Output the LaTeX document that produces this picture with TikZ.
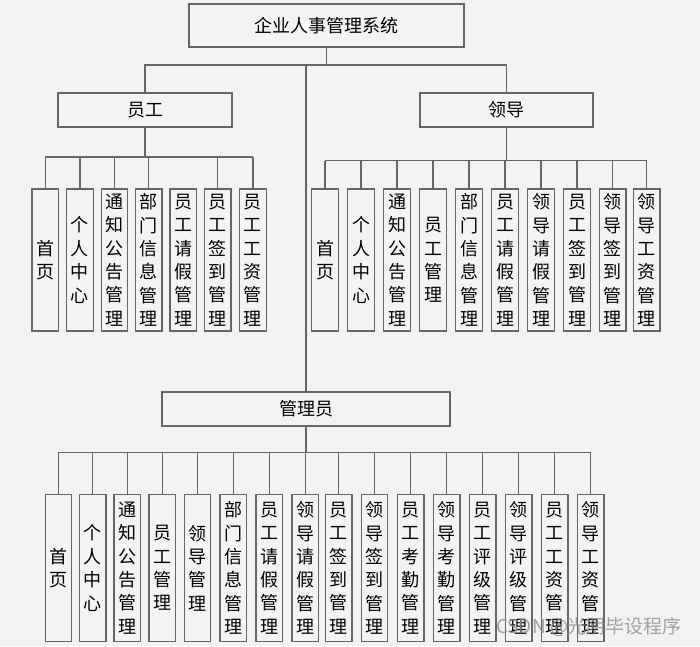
\documentclass[tikz,border=0pt]{standalone}
\usepackage{fontspec}
\setmainfont{Noto Sans CJK SC}
\definecolor{bgc}{HTML}{F2F2F2}
\definecolor{boxc}{HTML}{F3F3F3}
\definecolor{linec}{HTML}{666666}
\begin{document}
\begin{tikzpicture}[x=1pt,y=-1pt,
  box/.style={draw=linec, line width=1.2pt, fill=boxc, inner sep=0pt, text=black,
    font=\fontsize{18}{23.4}\selectfont, align=center},
  leaf/.style={box, minimum width=26.5pt},
  conn/.style={draw=linec, line width=1.2pt}]
\useasboundingbox[fill=bgc] (0,0) rectangle (700,646);
% top level
\node[box, minimum width=275pt, minimum height=43pt] (top) at (326.5,25.5) {企业人事管理系统};
\node[box, minimum width=174pt, minimum height=34pt] (yg) at (145,110) {员工};
\node[box, minimum width=173pt, minimum height=34pt] (ld) at (506.5,110) {领导};
\node[box, minimum width=288pt, minimum height=34pt] (gly) at (306,409) {管理员};
\coordinate (bus1) at (0,65);
\draw[conn] (top.south) -- (top.south |- bus1);
\draw[conn] (yg.north) -- (yg.north |- bus1) -- (ld.north |- bus1) -- (ld.north);
\draw[conn] (gly.north) -- (gly.north |- bus1);
% staff leaves
\coordinate (bus2) at (0,157);
\foreach \x/\t [count=\i] in {45.3/{首\\页}, 79.9/{个\\人\\中\\心}, 114.4/{通\\知\\公\\告\\管\\理},
  148.8/{部\\门\\信\\息\\管\\理}, 183.2/{员\\工\\请\\假\\管\\理}, 217.8/{员\\工\\签\\到\\管\\理},
  252.9/{员\\工\\工\\资\\管\\理}}
  \node[leaf, minimum height=142pt] (e\i) at (\x,260) {\t};
\draw[conn] (yg.south) -- (yg.south |- bus2);
\draw[conn] (e1.north |- bus2) -- (e7.north |- bus2);
\foreach \i in {1,2,3,4,6,7} \draw[conn] (e\i.north) -- (e\i.north |- bus2);
% leader leaves
\coordinate (bus3) at (0,160.7);
\foreach \x/\t [count=\i] in {325/{首\\页}, 361/{个\\人\\中\\心}, 397/{通\\知\\公\\告\\管\\理},
  433/{员\\工\\管\\理}, 469/{部\\门\\信\\息\\管\\理}, 505/{员\\工\\请\\假\\管\\理},
  541/{领\\导\\请\\假\\管\\理}, 577/{员\\工\\签\\到\\管\\理}, 612.7/{领\\导\\签\\到\\管\\理},
  646.7/{领\\导\\工\\资\\管\\理}}
  \node[leaf, minimum height=142pt] (l\i) at (\x,260) {\t};
\draw[conn] (ld.south) -- (ld.south |- bus3);
\draw[conn] (l1.north |- bus3) -- (l10.north |- bus3);
\foreach \i in {1,...,10} \draw[conn] (l\i.north) -- (l\i.north |- bus3);
% admin leaves
\coordinate (bus4) at (0,452.3);
\foreach \x/\t [count=\i] in {58.5/{首\\页}, 92.7/{个\\人\\中\\心}, 127.2/{通\\知\\公\\告\\管\\理},
  162.2/{员\\工\\管\\理}, 197.5/{领\\导\\管\\理}, 233.3/{部\\门\\信\\息\\管\\理},
  269.3/{员\\工\\请\\假\\管\\理}, 305.3/{领\\导\\请\\假\\管\\理}, 338.7/{员\\工\\签\\到\\管\\理},
  374.5/{领\\导\\签\\到\\管\\理}, 410.7/{员\\工\\考\\勤\\管\\理}, 446.7/{领\\导\\考\\勤\\管\\理},
  482.7/{员\\工\\评\\级\\管\\理}, 518.7/{领\\导\\评\\级\\管\\理}, 554.7/{员\\工\\工\\资\\管\\理},
  590.7/{领\\导\\工\\资\\管\\理}}
  \node[leaf, minimum height=147.4pt] (a\i) at (\x,568) {\t};
\draw[conn] (gly.south) -- (gly.south |- bus4);
\draw[conn] (a1.north |- bus4) -- (a16.north |- bus4);
\foreach \i in {1,...,16} \draw[conn] (a\i.north) -- (a\i.north |- bus4);
% watermark
\node[text=black!45, opacity=0.8, font=\fontsize{19}{22}\selectfont, inner sep=0pt] (wm) at (589,627) {CSDN @光阴毕设程序};
\end{tikzpicture}
\end{document}
